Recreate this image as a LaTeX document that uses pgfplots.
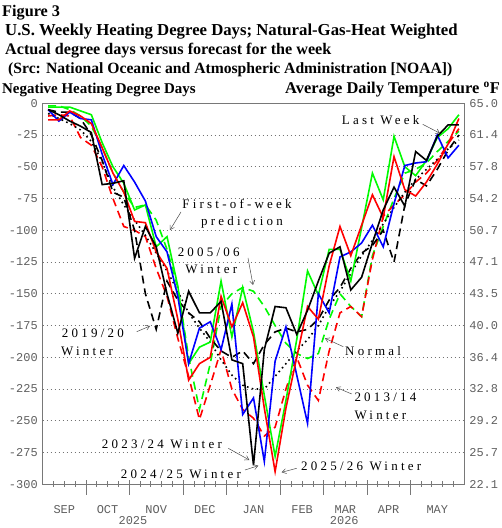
\documentclass[border=0pt]{standalone}
\usepackage{pgfplots}
\pgfplotsset{compat=1.18}
\usepackage{pgfplotstable}
\usepackage{fontspec}
\setmainfont{Liberation Serif}
\newfontfamily\tickfont{Liberation Mono}
\newfontfamily\annfont[LetterSpace=25]{Liberation Serif}
\usetikzlibrary{arrows.meta}
\definecolor{lgreen}{RGB}{0,250,0}
\definecolor{tickgray}{RGB}{95,95,95}
\definecolor{framegray}{RGB}{120,120,120}

\pgfplotstableread{
x    bk   bl   rd   gr   bkd  gnd  rdd  nm
0.5  -5   -5   -13  -3   -5   -2   -10  -8
1.5  -9   -14  -13  -3   -7   -2   -9   -12
2.5  -14  -7   -6   -3   -7   -5   -10  -16
3.5  -18  -12  -10  -6   -12  -10  -27  -21
4.5  -23  -13  -16  -9   -25  -18  -33  -30
5.5  -64  -40  -35  -31  -45  -35  -50  -46
6.5  -63  -64  -55  -50  -70  -55  -75  -66
7.5  -61  -49  -70  -63  -74  -70  -97  -80
8.5  -122 -62  -93  -84  -100 -82  -100 -92
9.5  -97  -77  -94  -80  -150 -80  -105 -104
10.5 -113 -105 -117 -113 -178 -92  -130 -118
11.5 -150 -117 -130 -105 -140 -115 -152 -132
12.5 -181 -152 -170 -144 -155 -145 -185 -148
13.5 -148 -205 -218 -205 -165 -200 -215 -165
14.5 -165 -177 -205 -192 -172 -241 -249 -177
15.5 -165 -172 -200 -188 -185 -205 -222 -188
16.5 -156 -194 -152 -140 -195 -160 -194 -202
17.5 -202 -158 -176 -184 -200 -150 -225 -214
18.5 -205 -245 -157 -145 -195 -145 -241 -222
19.5 -285 -232 -184 -180 -205 -148 -248 -225
20.5 -194 -282 -240 -230 -190 -160 -262 -225
21.5 -160 -203 -290 -278 -180 -175 -255 -215
22.5 -161 -176 -240 -234 -177 -189 -225 -205
23.5 -182 -214 -200 -186 -180 -197 -200 -195
24.5 -163 -252 -160 -132 -178 -201 -222 -186
25.5 -140 -150 -170 -151 -170 -197 -234 -175
26.5 -118 -165 -128 -115 -155 -170 -195 -160
27.5 -113 -121 -97  -115 -145 -150 -165 -148
28.5 -147 -117 -120 -140 -130 -160 -160 -134
29.5 -137 -110 -96  -98  -118 -168 -168 -120
30.5 -110 -96  -72  -55  -112 -120 -123 -108
31.5 -84  -113 -90  -76  -100 -97  -89  -95
32.5 -66  -79  -42  -26  -125 -75  -80  -82
33.5 -81  -49  -68  -50  -80  -55  -72  -70
34.5 -38  -47  -73  -57  -60  -52  -62  -60
35.5 -45  -46  -62  -45  -65  -47  -55  -52
36.5 -26  -25  -48  -27  -52  -38  -45  -44
37.5 -17  -43  -32  -20  -37  -30  -32  -36
38.5 -17  -33  -12  -9   -25  -22  -20  -29
}\datatable

\begin{document}
\begin{tikzpicture}
\useasboundingbox (0,0) rectangle (502bp,528bp);
\tikzset{ttl/.style={anchor=base west, inner sep=0pt},
  ann/.style={inner sep=0pt, font=\annfont\fontsize{13}{15}\selectfont},
  arr/.style={draw=black!70, line width=0.5bp, -{Straight Barb[length=4bp,width=5bp]}}}
\node[ttl, font=\fontsize{16.3}{19}\selectfont\bfseries] at (2bp,511bp) {Figure 3};
\node[ttl, font=\fontsize{16.8}{19}\selectfont\bfseries] at (5bp,492.5bp) {U.S. Weekly Heating Degree Days; Natural-Gas-Heat Weighted};
\node[ttl, font=\fontsize{16.2}{19}\selectfont\bfseries] at (5bp,473bp) {Actual degree days versus forecast for the week};
\node[ttl, font=\fontsize{15.7}{19}\selectfont\bfseries] at (8bp,454bp) {(Src: National Oceanic and Atmospheric Administration [NOAA])};
\node[ttl, font=\fontsize{15}{19}\selectfont\bfseries] at (2bp,434.5bp) {Negative Heating Degree Days};
\node[ttl, anchor=base east, font=\fontsize{16.5}{19}\selectfont\bfseries] at (500bp,434.5bp) {Average Daily Temperature \textsuperscript{o}F};

\begin{axis}[
  at={(42.7bp,43.7bp)}, anchor=south west, scale only axis,
  width=421.6bp, height=381bp,
  xmin=0, xmax=39, ymin=-300, ymax=0,
  clip=false,
  axis line style={framegray, line width=0.8bp},
  ytick={-300,-275,-250,-225,-200,-175,-150,-125,-100,-75,-50,-25,0},
  yticklabels={-300,-275,-250,-225,-200,-175,-150,-125,-100,-75,-50,-25,0},
  xtick={2,6,10.5,15,19.5,24,28,32,36.5},
  xticklabels={SEP,OCT,NOV,DEC,JAN,FEB,MAR,APR,MAY},
  xtick style={draw=none},
  ytick style={draw=none},
  yticklabel style={font=\tickfont\fontsize{12}{12}\selectfont, text=tickgray, xshift=-1.5bp},
  xticklabel style={font=\tickfont\fontsize{12}{12}\selectfont, text=tickgray, yshift=-18bp},
]
% horizontal dotted grid lines
\pgfplotsinvokeforeach{-275,-250,-225,-200,-175,-150,-125,-100,-75,-50,-25}{
  \draw[black!55, line width=1bp, dash pattern=on 1bp off 3bp] (axis cs:0,#1) -- (axis cs:39,#1);
}
% week ticks and month ticks
\pgfplotsinvokeforeach{1,2,3,5,6,7,9,10,11,12,14,15,16,18,19,20,21,23,24,25,27,28,29,31,32,33,35,36,37,38}{
  \draw[framegray, line width=0.8bp] ([yshift=3bp]axis cs:#1,-300) -- ([yshift=-3bp]axis cs:#1,-300);
}
\pgfplotsinvokeforeach{4,8,13,17,22,26,30,34}{
  \draw[framegray, line width=0.8bp] ([yshift=4bp]axis cs:#1,-300) -- ([yshift=-11bp]axis cs:#1,-300);
}
\node[font=\tickfont\fontsize{12}{12}\selectfont, text=tickgray] at (axis cs:8.35,-300) [yshift=-36bp] {2025};
\node[font=\tickfont\fontsize{12}{12}\selectfont, text=tickgray] at (axis cs:27.9,-300) [yshift=-36bp] {2026};

\addplot[lgreen, line width=1.6bp, dash pattern=on 8bp off 5bp] table[x=x,y=gnd]{\datatable};
\addplot[red, line width=1.6bp, dash pattern=on 8bp off 5bp] table[x=x,y=rdd]{\datatable};
\addplot[black, line width=1.6bp, dash pattern=on 8bp off 5bp] table[x=x,y=bkd]{\datatable};
\addplot[black, line width=1.6bp, dash pattern=on 1.6bp off 3.4bp] table[x=x,y=nm]{\datatable};
\addplot[lgreen, line width=1.6bp] table[x=x,y=gr]{\datatable};
\addplot[blue, line width=1.6bp] table[x=x,y=bl]{\datatable};
\addplot[red, line width=1.6bp] table[x=x,y=rd]{\datatable};
\addplot[black, line width=1.6bp] table[x=x,y=bk]{\datatable};
\end{axis}

\begin{axis}[
  at={(42.7bp,43.7bp)}, anchor=south west, scale only axis,
  width=421.6bp, height=381bp,
  xmin=0, xmax=39, ymin=-300, ymax=0,
  axis y line*=right, axis x line=none,
  axis line style={framegray, line width=0.8bp},
  ytick={-300,-275,-250,-225,-200,-175,-150,-125,-100,-75,-50,-25,0},
  yticklabels={22.1,25.7,29.2,32.8,36.4,40.0,43.5,47.1,50.7,54.2,57.8,61.4,65.0},
  ytick style={draw=none},
  yticklabel style={font=\tickfont\fontsize{12}{12}\selectfont, text=tickgray, xshift=1.5bp},
]
\end{axis}

% annotations
\node[ann, anchor=base] at (237bp,319bp) {First-of-week};
\node[ann, anchor=base] at (242bp,302bp) {prediction};
\draw[arr] (181bp,316bp) -- (170bp,298bp);
\node[ann, anchor=base] at (208.7bp,271bp) {2005/06};
\node[ann, anchor=base] at (211.3bp,254bp) {Winter};
\draw[arr] (248bp,270bp) -- (253bp,243bp);
\node[ann, anchor=base west] at (61.7bp,190bp) {2019/20};
\node[ann, anchor=base west] at (61bp,172bp) {Winter};
\draw[arr] (136.7bp,196.3bp) -- (150bp,202bp);
\node[ann, anchor=base west] at (101.7bp,79bp) {2023/24 Winter};
\draw[arr] (228.3bp,79.7bp) -- (249.3bp,68bp);
\node[ann, anchor=base west] at (120.7bp,49bp) {2024/25 Winter};
\draw[arr] (245bp,58bp) -- (258.3bp,62.3bp);
\node[ann, anchor=base west] at (301bp,57bp) {2025/26 Winter};
\draw[arr] (296.7bp,59.7bp) -- (281.7bp,55.7bp);
\node[ann, anchor=base west] at (345bp,172bp) {Normal};
\draw[arr] (343.3bp,181.3bp) -- (325bp,189.7bp);
\node[ann, anchor=base west] at (354.3bp,126bp) {2013/14};
\node[ann, anchor=base west] at (354.3bp,108bp) {Winter};
\draw[arr] (351.7bp,134bp) -- (336bp,140.7bp);
\node[ann, anchor=base west] at (341.7bp,403bp) {Last Week};
\draw[arr] (422.7bp,403.7bp) -- (440bp,394.7bp);
\end{tikzpicture}
\end{document}
